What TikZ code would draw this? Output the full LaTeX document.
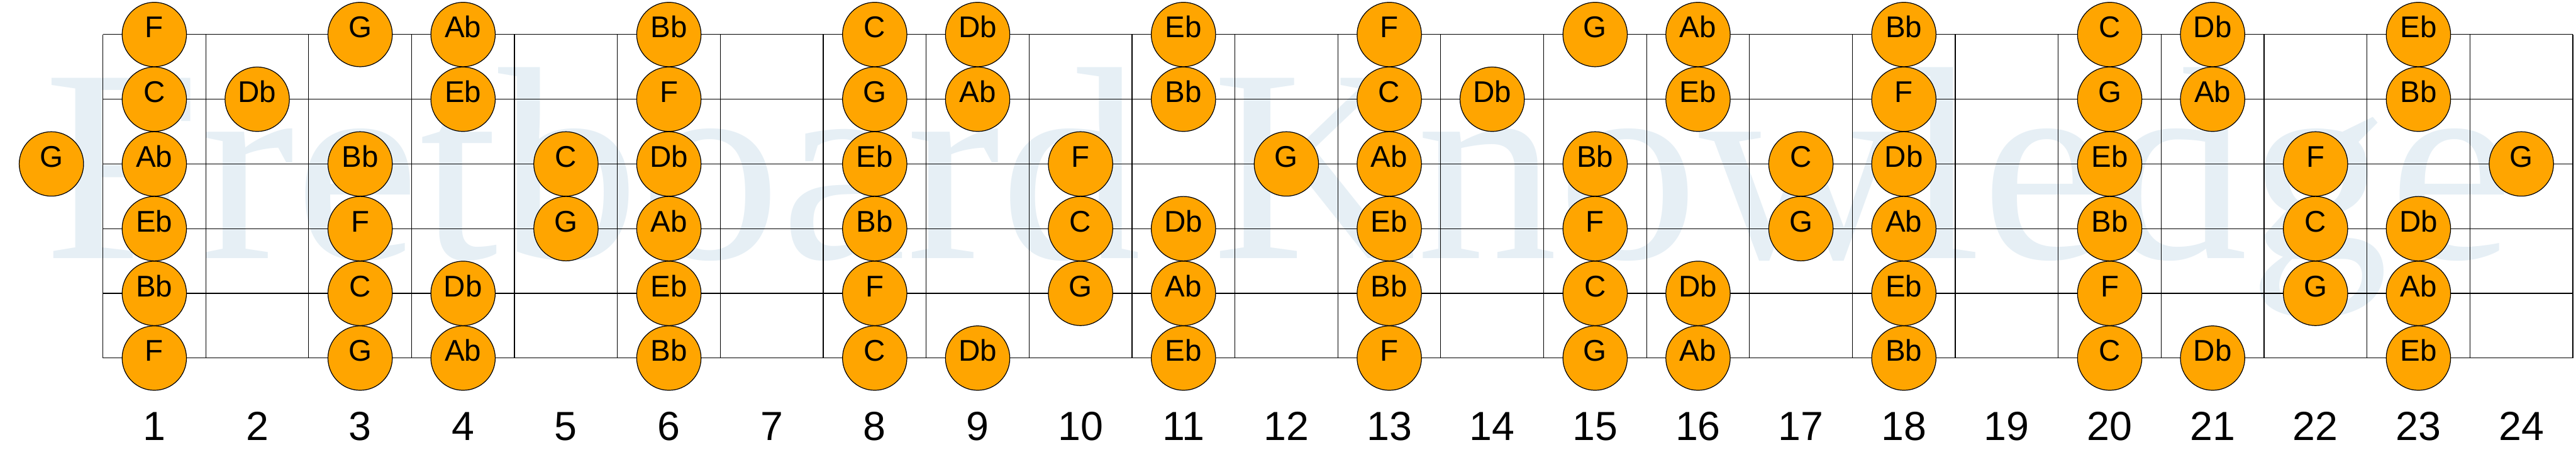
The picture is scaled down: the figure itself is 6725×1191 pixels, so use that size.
\documentclass[tikz,border=0pt]{standalone}
\usepackage{fontspec}
\setmainfont{Liberation Sans}
\newfontfamily\wmfont{Liberation Serif}
\definecolor{noteorange}{RGB}{255,165,0}
\definecolor{wmblue}{RGB}{230,239,245}
\begin{document}
\begin{tikzpicture}[x=0.25pt,y=-0.25pt,
  note/.style={circle,draw=black,line width=0.5pt,fill=noteorange,minimum size=42pt,inner sep=0pt,text height=0.716em,text depth=3pt,font=\fontsize{19.5}{19.5}\selectfont},
  fretnum/.style={font=\fontsize{26.5}{26.5}\selectfont,anchor=base,inner sep=0pt},
  gridline/.style={line width=0.5pt,black}]
\useasboundingbox (0,0) rectangle (6725,1191);
\node[anchor=base west,text=wmblue,inner sep=0pt,font=\wmfont\fontsize{179.5}{179.5}\selectfont] (wm) at (113,674) {\scalebox{1.027}[1]{Fretboard Knowledge}};
\foreach \n in {0,...,24} {
  \coordinate (ft\n) at ({268.5+268.67*\n},90);
  \coordinate (fb\n) at ({268.5+268.67*\n},934);
  \draw[gridline] (ft\n) -- (fb\n);
}
\foreach \s in {1,...,6} {
  \coordinate (sl\s) at (268.5,{90+168.8*(\s-1)});
  \coordinate (sr\s) at (6716.5,{90+168.8*(\s-1)});
  \draw[gridline] (sl\s) -- (sr\s);
}
\foreach \s/\lst in {
 1/{1/F,3/G,4/Ab,6/Bb,8/C,9/Db,11/Eb,13/F,15/G,16/Ab,18/Bb,20/C,21/Db,23/Eb},
 2/{1/C,2/Db,4/Eb,6/F,8/G,9/Ab,11/Bb,13/C,14/Db,16/Eb,18/F,20/G,21/Ab,23/Bb},
 3/{0/G,1/Ab,3/Bb,5/C,6/Db,8/Eb,10/F,12/G,13/Ab,15/Bb,17/C,18/Db,20/Eb,22/F,24/G},
 4/{1/Eb,3/F,5/G,6/Ab,8/Bb,10/C,11/Db,13/Eb,15/F,17/G,18/Ab,20/Bb,22/C,23/Db},
 5/{1/Bb,3/C,4/Db,6/Eb,8/F,10/G,11/Ab,13/Bb,15/C,16/Db,18/Eb,20/F,22/G,23/Ab},
 6/{1/F,3/G,4/Ab,6/Bb,8/C,9/Db,11/Eb,13/F,15/G,16/Ab,18/Bb,20/C,21/Db,23/Eb}} {
  \foreach \f/\t in \lst {
    \node[note] (n\s-\f) at ({268.5+268.67*(\f-0.5)},{90+168.8*(\s-1)}) {\t};
  }
}
\foreach \n in {1,...,24} {
  \node[fretnum] (num\n) at ({268.5+268.67*(\n-0.5)},1148) {\n};
}
\end{tikzpicture}
\end{document}
